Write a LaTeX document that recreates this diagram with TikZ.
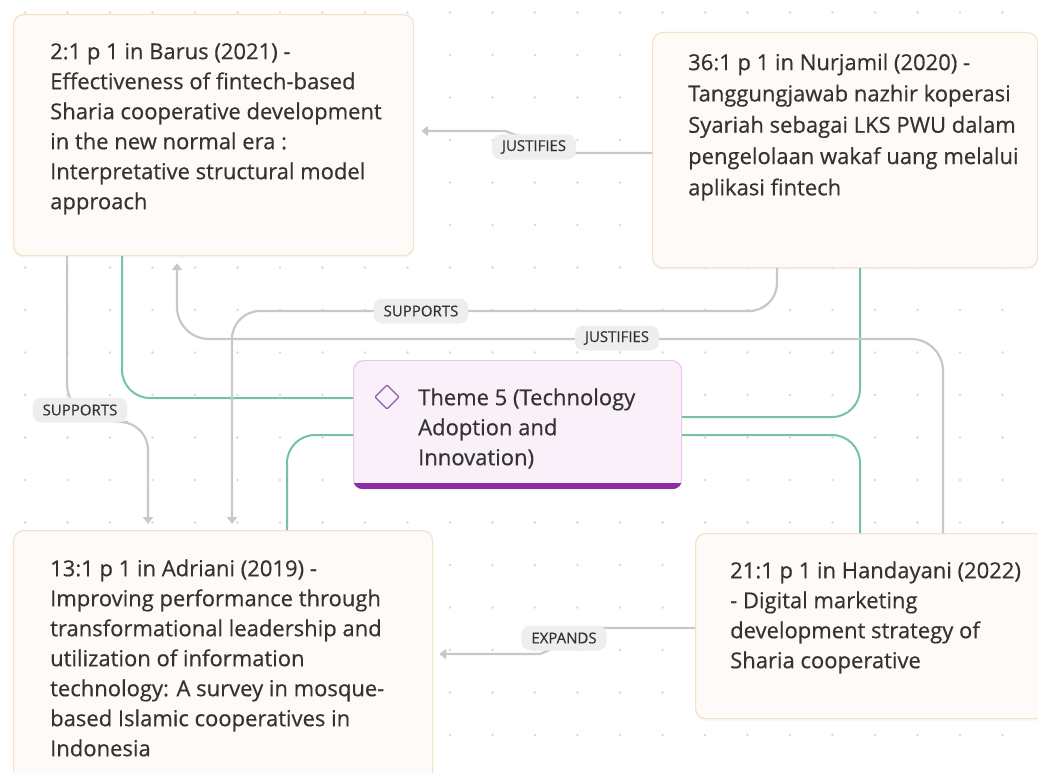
\documentclass[tikz,border=0pt]{standalone}
\usepackage{fontspec}
\setmainfont{Open Sans}
\newfontfamily\cardfont{Open Sans}[FakeBold=0.45]
\usetikzlibrary{arrows.meta,calc,shadows}

\definecolor{ink}{HTML}{333333}
\definecolor{edgegray}{HTML}{C8C8C8}
\definecolor{linkgreen}{HTML}{74C3A1}
\definecolor{cardfill}{HTML}{FDFAF7}
\definecolor{cardline}{HTML}{F6E2C9}
\definecolor{themefill}{HTML}{F9F0FA}
\definecolor{themeline}{HTML}{E6C9EC}
\definecolor{themebar}{HTML}{8B2DA3}
\definecolor{iconpurple}{HTML}{8E5FA0}
\definecolor{pillfill}{HTML}{EEEEEE}
\definecolor{dotgray}{HTML}{D9D9D9}

\begin{document}
\begin{tikzpicture}[x=1pt,y=-1pt,
  card/.style={draw=cardline, fill=cardfill, line width=1.2pt, rounded corners=10pt,
    anchor=north west, inner sep=0pt,
    drop shadow={opacity=0.07, shadow xshift=0pt, shadow yshift=-2pt}},
  themecard/.style={draw=themeline, fill=themefill, line width=1.2pt, rounded corners=10pt,
    anchor=north west, inner sep=0pt,
    drop shadow={opacity=0.08, shadow xshift=0pt, shadow yshift=-2pt}},
  cardtext/.style={anchor=north west, inner sep=0pt, align=left, text=ink,
    font=\cardfont\fontsize{22}{30}\selectfont},
  pill/.style={fill=pillfill, rounded corners=9pt, text=ink,
    font=\cardfont\fontsize{15}{18}\selectfont, minimum height=25pt, inner xsep=10pt, inner ysep=0pt},
  relation/.style={draw=edgegray, line width=2.2pt, rounded corners=28pt},
  tip/.style={-{Triangle[length=7pt,width=10pt]}},
  themelink/.style={draw=linkgreen, line width=2pt, rounded corners=28pt}]

\useasboundingbox (0,0) rectangle (1038,773);
\clip (0,0) rectangle (1038,773);
\fill[white] (0,0) rectangle (1038,773);

% dotted canvas grid
\foreach \i in {0,...,24}
  \foreach \j in {0,...,18}
    \fill[dotgray] (25+\i*42.5, 12.5+\j*42.5) circle (1.3pt);

% source cards
\node[card, minimum width=400pt, minimum height=241pt] (barus) at (13,14) {};
\node[card, minimum width=385pt, minimum height=235pt] (nurjamil) at (652,32) {};
\node[card, minimum width=419pt, minimum height=270pt] (adriani) at (13,530) {};
\node[card, minimum width=360pt, minimum height=185pt] (handayani) at (695,533) {};

% theme card with its accent bar
\node[themecard, minimum width=328pt, minimum height=128pt] (theme) at (353,360) {};
\begin{scope}
  \clip[rounded corners=10pt] (theme.north west) rectangle (theme.south east);
  \fill[themebar] ($(theme.south west)+(0,-6)$) rectangle (theme.south east);
\end{scope}
\draw[iconpurple, line width=1.4pt, rounded corners=1pt]
  (375,397) -- (387,385) -- (399,397) -- (387,409) -- cycle;

% card texts
\node[cardtext] (barustext) at (50,38) {\strut 2:1 p 1 in Barus (2021) -\\Effectiveness of fintech-based\\Sharia cooperative development\\in the new normal era :\\Interpretative structural model\\approach};
\node[cardtext, font=\cardfont\fontsize{22}{31.3}\selectfont] (nurjamiltext) at (688,48) {\strut 36:1 p 1 in Nurjamil (2020) -\\Tanggungjawab nazhir koperasi\\Syariah sebagai LKS PWU dalam\\pengelolaan wakaf uang melalui\\aplikasi fintech};
\node[cardtext] (themetext) at (418,384) {\strut Theme 5 (Technology\\Adoption and\\Innovation)};
\node[cardtext] (adrianitext) at (50,555) {\strut 13:1 p 1 in Adriani (2019) -\\Improving performance through\\transformational leadership and\\utilization of information\\technology: A survey in mosque-\\based Islamic cooperatives in\\Indonesia};
\node[cardtext] (handayanitext) at (730,557) {\strut 21:1 p 1 in Handayani (2022)\\- Digital marketing\\development strategy of\\Sharia cooperative};

% theme membership links
\draw[themelink] ($(barus.south west)+(109,0)$) |- ($(theme.north west)+(0,38)$);
\draw[themelink] ($(nurjamil.south west)+(208,0)$) |- ($(theme.north east)+(0,57)$);
\draw[themelink] ($(theme.north east)+(0,75)$) -| ($(handayani.north west)+(165,0)$);
\draw[themelink] ($(theme.north west)+(0,75)$) -| ($(adriani.north west)+(274,0)$);

% relations between sources
\draw[relation, rounded corners=0pt, tip, shorten >=7pt]
  ($(nurjamil.north west)+(0,121)$) -- (565,153) -- (505,131) -- ($(barus.north east)+(0,117)$);
\draw[relation, tip, shorten >=6pt]
  ($(barus.south west)+(54,0)$) -- (67,412) -- (100,422) -- (148,422) -- ($(adriani.north west)+(135,0)$);
\draw[relation, tip, shorten >=6pt]
  ($(nurjamil.south west)+(125,0)$) -- (777,311) -- (232,311) -- ($(adriani.north west)+(219,0)$);
\draw[relation, rounded corners=32pt, tip, shorten >=7pt]
  ($(handayani.north west)+(248,0)$) -- (943,339) -- (177,339) -- ($(barus.south west)+(164,0)$);
\draw[relation, rounded corners=0pt, tip, shorten >=6pt]
  ($(handayani.north west)+(0,95)$) -- (600,628) -- (540,654) -- ($(adriani.north east)+(0,124)$);

% relation labels
\node[pill] (lbljust1) at (534,147) {JUSTIFIES};
\node[pill] (lblsupp1) at (80,410) {SUPPORTS};
\node[pill] (lblsupp2) at (421,311) {SUPPORTS};
\node[pill] (lbljust2) at (617,338) {JUSTIFIES};
\node[pill] (lblexp) at (564,638) {EXPANDS};

\end{tikzpicture}
\end{document}
